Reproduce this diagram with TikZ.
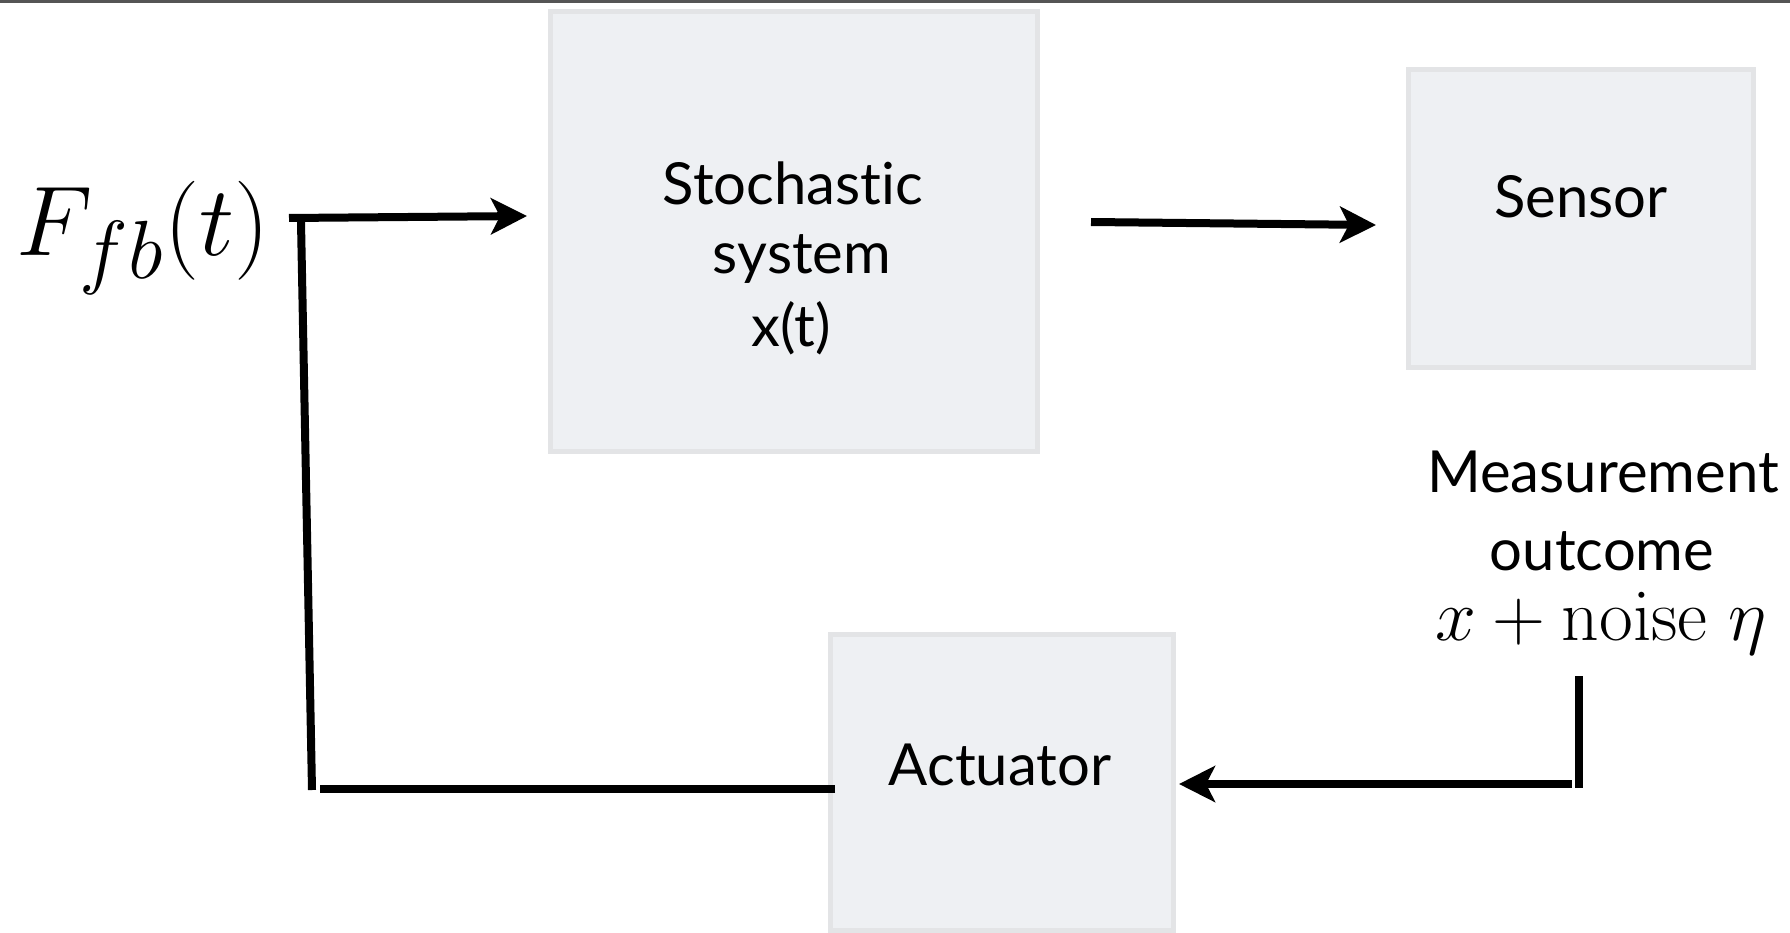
\documentclass[tikz,border=0pt]{standalone}
\usepackage[no-math]{fontspec}
\setmainfont[Ligatures=NoCommon]{Lato}
\usetikzlibrary{arrows.meta}
\definecolor{boxfill}{RGB}{238,240,243}
\definecolor{boxline}{RGB}{227,228,230}
\definecolor{topline}{RGB}{85,85,85}
\tikzset{
  blockbox/.style={rectangle, draw=boxline, fill=boxfill, line width=5pt, inner sep=0pt},
  lbl/.style={anchor=base, inner sep=0pt, font=\fontsize{58}{70}\selectfont},
  mathlbl/.style={anchor=base, inner sep=0pt, font=\fontsize{17.28}{20}\selectfont, scale=4.25},
  wire/.style={line width=8pt, black},
  arr/.style={wire, -{Stealth[length=36pt,width=36pt,inset=9pt]}},
}
\begin{document}
\begin{tikzpicture}[x=1pt,y=-1pt]
\useasboundingbox (0,0) rectangle (1790,933);
\fill[white] (0,0) rectangle (1790,933);
\draw[topline, line width=3pt] (0,1.5) -- (1790,1.5);

% blocks
\node[blockbox, minimum width=487pt, minimum height=440pt] (stoch) at (794,231.5) {};
\node[blockbox, minimum width=345pt, minimum height=298pt] (sensor) at (1581,218.5) {};
\node[blockbox, minimum width=343pt, minimum height=296pt] (act) at (1002,782.5) {};

% texts
\node[lbl] (st1) at (793,205) {Stochas\kern0pt tic};
\node[lbl] (st2) at (802,273) {system};
\node[lbl] (st3) at (791,346) {x(t)};
\node[lbl] (sensT) at (1581,218) {Sensor};
\node[lbl] (actT) at (1000,785) {Actuator};
\node[lbl] (m1) at (1603,492) {Measurement};
\node[lbl] (m2) at (1602,570) {outcome};
\node[mathlbl] (m3) at (1601,640) {$x+\mathrm{noise}\;\eta$};
\node[anchor=base west, inner sep=0pt, font=\fontsize{24.88}{30}\selectfont, scale=3.98] (F) at (16,255) {$F_{fb}(t)$};

% connector points
\coordinate (tl) at (289,218);
\coordinate (inA) at (527,216);
\coordinate (outS) at (1091,222);
\coordinate (inSens) at (1376,225);
\coordinate (rvTop) at (1579,676);
\coordinate (rvBot) at (1579,788);
\coordinate (brStart) at (1572,784);
\coordinate (inAct) at (1179,784);
\coordinate (blStart) at (835,789);
\coordinate (blEnd) at (320,789);
\coordinate (lvTop) at (301,222);
\coordinate (lvBot) at (312,790);

% connectors
\draw[arr] (tl) -- (inA);
\draw[arr] (outS) -- (inSens);
\draw[wire] (rvTop) -- (rvBot);
\draw[arr] (brStart) -- (inAct);
\draw[wire] (blStart) -- (blEnd);
\draw[wire] (lvTop) -- (lvBot);
\end{tikzpicture}
\end{document}
